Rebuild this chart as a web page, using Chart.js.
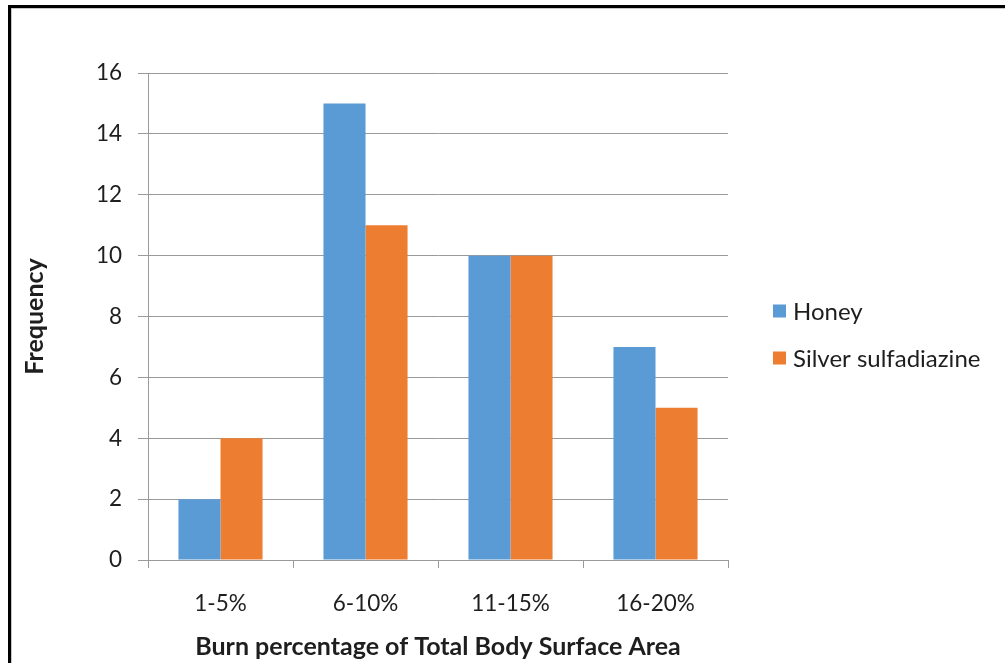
<!DOCTYPE html>
<html>
<head>
<meta charset="utf-8">
<style>
  html, body { margin: 0; padding: 0; background: #fff; }
  #wrap { position: relative; width: 1005px; height: 663px; }
</style>
<script src="https://cdn.jsdelivr.net/npm/chart.js@4/dist/chart.umd.min.js"></script>
</head>
<body>
<div id="wrap"><canvas id="c" width="1005" height="663"></canvas></div>
<script>
// Burn size groups and patient counts per treatment
const categories = ['1-5%', '6-10%', '11-15%', '16-20%'];
const honey = [2, 15, 10, 7];
const silverSulfadiazine = [4, 11, 10, 5];
const seriesNames = ['Honey', 'Silver sulfadiazine'];
const yTicks = [0, 2, 4, 6, 8, 10, 12, 14, 16];

const FONT = 'Lato, "Open Sans", sans-serif';
const GRID = '#9a9a9a';
const TEXT = '#1e1e1e';

// Outer frame (thick dark rule at top and left with a light inner line)
const framePlugin = {
  id: 'frame',
  beforeDraw(chart) {
    const ctx = chart.ctx;
    ctx.save();
    ctx.fillStyle = '#fff';
    ctx.fillRect(0, 0, chart.width, chart.height);
    ctx.fillStyle = '#000';
    ctx.fillRect(8, 5, chart.width - 8, 3);
    ctx.fillRect(8, 5, 3, chart.height - 5);
    ctx.fillStyle = '#c8c8c8';
    ctx.fillRect(11, 8, 1, chart.height - 8);
    ctx.fillRect(11, 8, chart.width - 11, 1);
    ctx.restore();
  }
};

// Legend to the right of the plot area
const sideLegend = {
  id: 'sideLegend',
  afterDraw(chart) {
    const ctx = chart.ctx;
    const area = chart.chartArea;
    const items = Chart.defaults.plugins.legend.labels.generateLabels(chart);
    const x = area.right + 45;
    const gap = 47;
    const midY = 334.5;
    const startY = midY - gap * (items.length - 1) / 2;
    ctx.save();
    ctx.font = '24px ' + FONT;
    ctx.textBaseline = 'middle';
    ctx.textAlign = 'left';
    items.forEach((it, i) => {
      const y = startY + i * gap;
      ctx.fillStyle = it.fillStyle;
      ctx.fillRect(x, y - 6.5, 13, 13);
      ctx.fillStyle = TEXT;
      ctx.fillText(it.text, x + 20, y + 1);
    });
    ctx.restore();
  }
};

new Chart(document.getElementById('c'), {
  type: 'bar',
  data: {
    labels: categories,
    datasets: [
      { label: seriesNames[0], data: honey, backgroundColor: '#5B9BD5' },
      { label: seriesNames[1], data: silverSulfadiazine, backgroundColor: '#ED7D31' }
    ]
  },
  options: {
    responsive: false,
    animation: false,
    devicePixelRatio: 1,
    layout: { padding: { top: 73, left: 0, right: 277, bottom: 0 } },
    datasets: { bar: { categoryPercentage: 0.58, barPercentage: 1.0, borderWidth: 0 } },
    plugins: {
      legend: { display: false },
      tooltip: { enabled: false },
      title: { display: false }
    },
    scales: {
      x: {
        afterFit(scale) { scale.height = 103; },
        grid: { drawOnChartArea: false, tickLength: 8, color: GRID, offset: true },
        border: { display: true, color: GRID, width: 1 },
        ticks: { color: TEXT, font: { family: FONT, size: 22.5 }, padding: 22 },
        title: {
          display: true,
          text: 'Burn percentage of Total Body Surface Area',
          color: TEXT,
          font: { family: FONT, size: 25, weight: 'bold' },
          padding: { top: 0, bottom: 1 }
        }
      },
      y: {
        min: 0,
        max: 16,
        afterFit(scale) { scale.width = 148; },
        afterBuildTicks(scale) { scale.ticks = yTicks.map(v => ({ value: v })); },
        grid: { color: GRID, tickLength: 10 },
        border: { display: true, color: GRID, width: 1 },
        ticks: { color: TEXT, font: { family: FONT, size: 22.5 }, padding: 16 },
        title: {
          display: true,
          text: 'Frequency',
          color: TEXT,
          font: { family: FONT, size: 25, weight: 'bold' },
          padding: { top: 20, bottom: 0 }
        }
      }
    }
  },
  plugins: [framePlugin, sideLegend]
});
</script>
</body>
</html>
